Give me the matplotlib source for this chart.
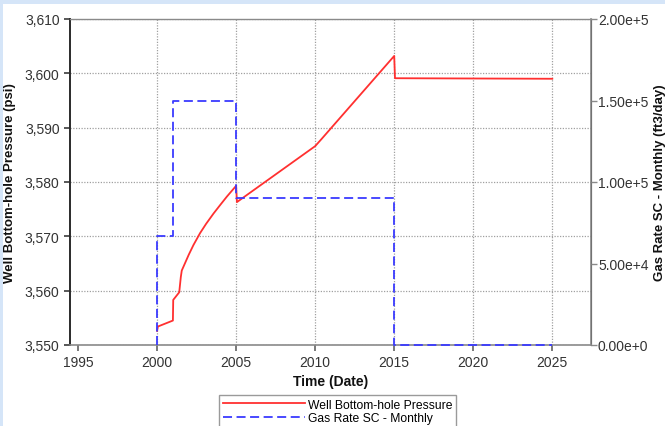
import matplotlib
matplotlib.use("Agg")
import matplotlib.pyplot as plt
from matplotlib.patches import Rectangle
from matplotlib.ticker import FuncFormatter

plt.rcParams['font.family'] = ['Liberation Sans', 'DejaVu Sans']

# Well bottom-hole pressure (psi) vs time (decimal year)
p_time = [2000.0, 2000.05, 2001.0, 2001.02, 2001.4, 2001.5, 2001.56, 2002.0,
          2002.3, 2002.72, 2003.1, 2003.57, 2004.0, 2004.41, 2005.0, 2005.05,
          2010.0, 2010.4, 2015.0, 2015.05, 2025.0]
p_psi = [3552.6, 3553.4, 3554.5, 3558.3, 3559.7, 3562.5, 3563.7, 3566.6,
         3568.4, 3570.6, 3572.3, 3574.2, 3575.8, 3577.3, 3579.3, 3576.3,
         3586.6, 3587.9, 3603.2, 3599.1, 3599.0]

# Gas rate SC - monthly (ft3/day)
g_time = [2000.0, 2000.0, 2001.0, 2001.0, 2005.0, 2005.0, 2015.0, 2015.0, 2025.0]
g_rate = [0, 66700, 66700, 150000, 150000, 90000, 90000, 0, 0]

x_ticks = [1995, 2000, 2005, 2010, 2015, 2020, 2025]
y_ticks = [3550, 3560, 3570, 3580, 3590, 3600, 3610]
y2_ticks = [0, 50000, 100000, 150000, 200000]


def sci_fmt(v, pos):
    if v == 0:
        return "0.00e+0"
    s = f"{v:.2e}"
    mant, exp = s.split('e')
    return f"{mant}e+{int(exp)}"


W, H = 665, 427
fig = plt.figure(figsize=(W / 100, H / 100), dpi=100)
fig.patch.set_facecolor('white')
fig.patches.append(Rectangle((0, 0), 1, 1, transform=fig.transFigure,
                             facecolor='#d5e5f8', edgecolor='none', zorder=-10))
fig.patches.append(Rectangle((3 / W, 0), 1, 1 - 5 / H, transform=fig.transFigure,
                             facecolor='white', edgecolor='none', zorder=-9))

ax = fig.add_axes([70 / W, 1 - 346 / H, (591 - 70) / W, (346 - 20) / H])
ax.set_facecolor('none')
ax2 = ax.twinx()

l1, = ax.plot(p_time, p_psi, color='#ff3030', lw=1.3, zorder=5)
l2, = ax2.plot(g_time, g_rate, color='#3a3aff', lw=1.3, ls=(0, (5, 2.5)), zorder=4,
               clip_on=False)

ax.set_xlim(1994.49, 2027.45)
ax.set_ylim(3550, 3610)
ax2.set_ylim(0, 200000)
ax.set_xticks(x_ticks)
ax.set_yticks(y_ticks)
ax2.set_yticks(y2_ticks)
ax.yaxis.set_major_formatter(FuncFormatter(lambda v, p: f"{v:,.0f}"))
ax2.yaxis.set_major_formatter(FuncFormatter(sci_fmt))

ax.grid(True, ls=(0, (1, 1.2)), color='#a0a0a0', lw=0.9)
ax.xaxis.get_gridlines()[0].set_visible(False)

for sp in ['top', 'bottom']:
    ax.spines[sp].set_color('#8a8a8a')
ax.spines['left'].set_color('#2a2a2a')
ax.spines['left'].set_linewidth(1.4)
ax.spines['bottom'].set_linewidth(1.2)
ax.spines['top'].set_linewidth(1.0)
ax2.spines['right'].set_color('#8a8a8a')
ax2.spines['right'].set_linewidth(1.2)
for sp in ['left', 'top', 'bottom']:
    ax2.spines[sp].set_visible(False)

ax.tick_params(axis='both', direction='out', length=4, width=1.1,
               colors='#2a2a2a', labelsize=10, labelcolor='#333333')
ax.tick_params(axis='x', colors='#555555', labelcolor='#333333', pad=3)
ax2.tick_params(axis='y', direction='out', length=4, width=1.0,
                colors='#8a8a8a', labelsize=10, labelcolor='#333333', pad=1)

ax.set_xlabel('Time (Date)', fontsize=10, fontweight='bold', color='#111111', labelpad=4)
ax.set_ylabel('Well Bottom-hole Pressure (psi)', fontsize=9.5, fontweight='bold',
              color='#111111', labelpad=6)
ax2.set_ylabel('Gas Rate SC - Monthly (ft3/day)', fontsize=9.5, fontweight='bold',
               color='#111111', labelpad=4)

leg = fig.legend([l1, l2], ['Well Bottom-hole Pressure', 'Gas Rate SC - Monthly'],
                 loc='upper center', bbox_to_anchor=(337.5 / W, 1 - 396 / H),
                 fontsize=8.7, handlelength=6.8, handletextpad=0.2,
                 labelspacing=0.12, borderpad=0.3, borderaxespad=0,
                 fancybox=False, framealpha=1, edgecolor='#9a9a9a')
leg.get_frame().set_linewidth(1.0)

fig.savefig('out.png', dpi=100)
